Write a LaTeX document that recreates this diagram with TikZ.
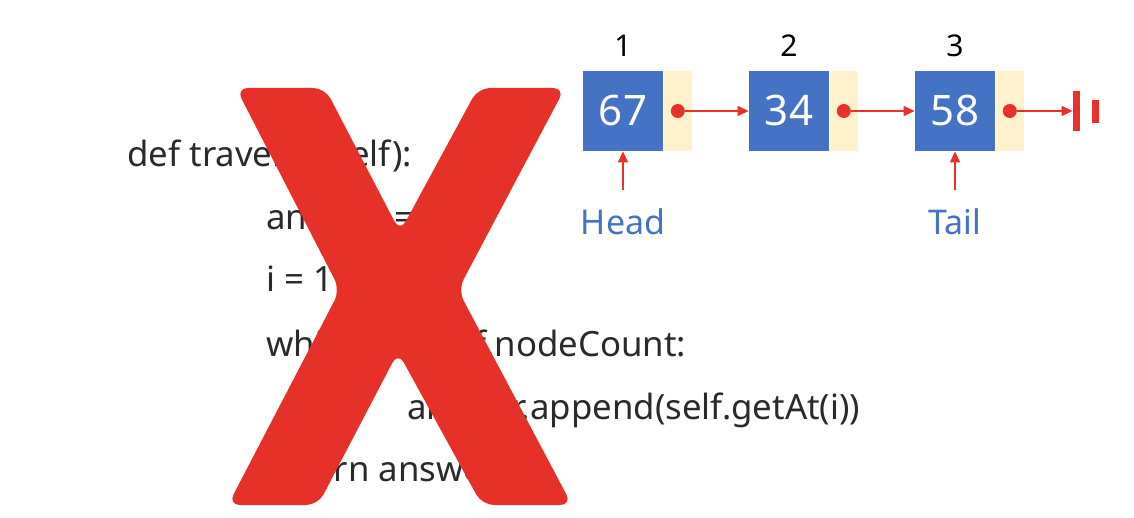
\documentclass[tikz,border=0pt]{standalone}
\usepackage{fontspec}
\setmainfont{Noto Sans}
\usetikzlibrary{arrows.meta,positioning}

\definecolor{boxblue}{HTML}{4472C4}
\definecolor{ptrcream}{HTML}{FFF2CC}
\definecolor{linkred}{HTML}{E8312A}
\definecolor{crossred}{HTML}{E53127}
\definecolor{codegray}{HTML}{2A2A2A}

\tikzset{
  databox/.style={fill=boxblue, text=white, minimum width=40pt, minimum height=40pt, inner sep=0pt, font=\fontsize{21}{21}\selectfont},
  ptrbox/.style={fill=ptrcream, minimum width=14pt, minimum height=40pt, inner sep=0pt},
  ptrdot/.style={circle, fill=linkred, minimum size=7pt, inner sep=0pt},
  nodelink/.style={draw=linkred, line width=0.75pt, -{Triangle[length=5.5pt,width=5pt]}},
  gndbar/.style={fill=linkred, inner sep=0pt, minimum width=3.5pt},
  idxlabel/.style={font=\fontsize{15}{15}\selectfont},
  ptrlabel/.style={text=boxblue, font=\fontsize{17}{17}\selectfont},
  codeline/.style={anchor=base west, text=codegray, inner sep=0pt, font=\fontsize{17.4}{17.4}\selectfont}
}

\begin{document}
\begin{tikzpicture}[x=0.5pt, y=-0.5pt]
  \useasboundingbox (0,0) rectangle (1134,518);

  % code
  \node[codeline] (c1) at (127,167) {def traverse(self):};
  \node[codeline] (c2) at (266,230) {answer = []};
  \node[codeline] (c3) at (266,292) {i = 1};
  \node[codeline] (c4) at (266,356) {while i <= self.nodeCount:};
  \node[codeline] (c5) at (407,419) {answer.append(self.getAt(i))};
  \node[codeline] (c6) at (266,481) {return answer};

  % linked list
  \node[databox] (d1) at (623,111) {67};
  \node[ptrbox, right=0pt of d1] (p1) {};
  \node[databox] (d2) at (789,111) {34};
  \node[ptrbox, right=0pt of d2] (p2) {};
  \node[databox] (d3) at (955,111) {58};
  \node[ptrbox, right=0pt of d3] (p3) {};

  \node[ptrdot] (o1) at (p1.center) {};
  \node[ptrdot] (o2) at (p2.center) {};
  \node[ptrdot] (o3) at (p3.center) {};

  % indices
  \node[idxlabel] (n1) at (623,46) {1};
  \node[idxlabel] (n2) at (789,46) {2};
  \node[idxlabel] (n3) at (955,46) {3};

  % ground
  \node[gndbar, minimum height=20pt] (g1) at (1076.5,111) {};
  \node[gndbar, minimum height=11.5pt] (g2) at (1095.5,111.5) {};

  \draw[nodelink] (o1) -- (d2.west);
  \draw[nodelink] (o2) -- (d3.west);
  \draw[nodelink] (o3) -- (g1.west);

  % head / tail
  \node[ptrlabel] (head) at (623,222) {Head};
  \node[ptrlabel] (tail) at (955,222) {Tail};
  \coordinate (hs) at (623,190);
  \coordinate (ts) at (955,190);
  \draw[nodelink] (hs) -- (d1.south);
  \draw[nodelink] (ts) -- (d3.south);

  % big cross
  \fill[crossred, rounded corners=6pt] (236,88) -- (325,88) -- (400,232) -- (478,88) -- (565,88)
    -- (458,290) -- (572,505) -- (482,505) -- (398,352) -- (318,505) -- (228,505) -- (340,290) -- cycle;
\end{tikzpicture}
\end{document}
